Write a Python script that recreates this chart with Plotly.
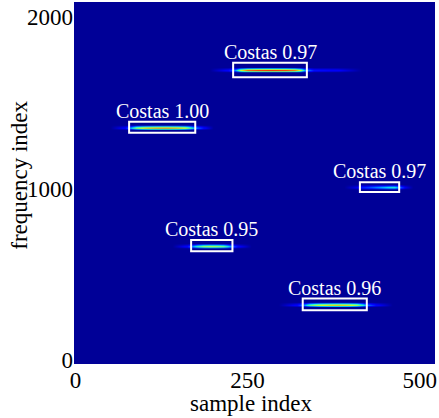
import plotly.graph_objects as go

# ---------------- data ----------------
labels = ["Costas 0.97", "Costas 1.00", "Costas 0.97", "Costas 0.95", "Costas 0.96"]
box_x0 = [229, 78, 413, 168, 330]
box_x1 = [336, 174, 470, 228, 423]
box_y0 = [1650, 1326, 980, 634, 289]
box_y1 = [1735, 1390, 1037, 700, 357]
streak_y = [1694, 1358, 1010, 665, 323]

background_level = 0.02

streak_x_A = [195, 222, 233, 240, 250, 265, 285, 305, 318, 326, 333, 345, 380, 415]
streak_z_A = [0.02, 0.13, 0.30, 0.62, 0.82, 0.88, 0.90, 0.88, 0.80, 0.60, 0.32, 0.14, 0.12, 0.02]

streak_x_B = [50, 72, 80, 88, 100, 115, 130, 145, 158, 166, 172, 185, 200]
streak_z_B = [0.02, 0.13, 0.30, 0.55, 0.68, 0.74, 0.76, 0.73, 0.65, 0.50, 0.30, 0.13, 0.02]

streak_x_C = [390, 408, 416, 425, 435, 445, 455, 462, 468, 478, 490]
streak_z_C = [0.02, 0.10, 0.16, 0.20, 0.26, 0.32, 0.38, 0.40, 0.30, 0.10, 0.02]

streak_x_D = [140, 162, 170, 177, 185, 195, 205, 214, 221, 226, 235, 255]
streak_z_D = [0.02, 0.13, 0.28, 0.45, 0.56, 0.60, 0.58, 0.52, 0.40, 0.26, 0.13, 0.02]

streak_x_E = [295, 322, 332, 340, 352, 368, 382, 396, 408, 416, 422, 435, 460]
streak_z_E = [0.02, 0.13, 0.28, 0.48, 0.62, 0.68, 0.70, 0.67, 0.58, 0.42, 0.26, 0.13, 0.02]

streaks_x = [streak_x_A, streak_x_B, streak_x_C, streak_x_D, streak_x_E]
streaks_z = [streak_z_A, streak_z_B, streak_z_C, streak_z_D, streak_z_E]

x_range = [-2, 522]
y_range = [-25, 2090]
x_ticks = [0, 250, 500]
y_ticks = [0, 1000, 2000]
x_title = "sample index"
y_title = "frequency index"

# ---------------- style ----------------
jet = [
    [0.0, "rgb(0,0,128)"], [0.11, "rgb(0,0,255)"], [0.125, "rgb(0,0,255)"],
    [0.34, "rgb(0,219,255)"], [0.375, "rgb(20,255,226)"], [0.5, "rgb(123,255,123)"],
    [0.64, "rgb(239,255,8)"], [0.66, "rgb(255,236,0)"], [0.89, "rgb(255,19,0)"],
    [0.91, "rgb(232,0,0)"], [1.0, "rgb(128,0,0)"],
]
serif = "Liberation Serif, Times New Roman, serif"
half_thickness = 14

fig = go.Figure()

# background
fig.add_trace(go.Heatmap(
    x=x_range, y=y_range,
    z=[[background_level, background_level], [background_level, background_level]],
    colorscale=jet, zmin=0, zmax=1, showscale=False, hoverinfo="skip",
))

for sx, sz, yc in zip(streaks_x, streaks_z, streak_y):
    edge = [background_level] * len(sz)
    fig.add_trace(go.Heatmap(
        x=sx, y=[yc - half_thickness, yc, yc + half_thickness],
        z=[edge, sz, edge],
        colorscale=jet, zmin=0, zmax=1, showscale=False, zsmooth="best",
        hoverinfo="skip",
    ))

for lab, x0, x1, y0, y1 in zip(labels, box_x0, box_x1, box_y0, box_y1):
    fig.add_shape(type="rect", x0=x0, x1=x1, y0=y0, y1=y1,
                  line=dict(color="white", width=2), xref="x", yref="y")
    fig.add_annotation(x=(x0 + x1) / 2, y=y1, text=lab, showarrow=False,
                       yanchor="bottom", xanchor="center", yshift=-2,
                       font=dict(family=serif, size=20, color="white"))

# axis titles
fig.add_annotation(xref="paper", yref="paper", x=0.49, y=0, yshift=-39,
                   xanchor="center", yanchor="middle", showarrow=False,
                   text=x_title, font=dict(family=serif, size=23, color="black"))
fig.add_annotation(xref="paper", yref="paper", x=0, y=0.52, xshift=-54,
                   xanchor="center", yanchor="middle", showarrow=False, textangle=-90,
                   text=y_title, font=dict(family=serif, size=23, color="black"))

fig.update_layout(
    width=439, height=418,
    margin=dict(l=74, r=4, t=2, b=54, autoexpand=False),
    paper_bgcolor="white", plot_bgcolor="rgb(0,0,140)",
    font=dict(family=serif, size=23, color="black"),
    showlegend=False,
)
fig.update_xaxes(range=x_range, tickvals=x_ticks, ticktext=[str(v) for v in x_ticks],
                 showgrid=False, zeroline=False, ticks="", automargin=False,
                 tickfont=dict(size=23))
fig.update_yaxes(range=y_range, tickvals=y_ticks, ticktext=[str(v) for v in y_ticks],
                 showgrid=False, zeroline=False, ticks="", automargin=False,
                 tickfont=dict(size=23))

fig.write_html("out.html", config={"displayModeBar": False},
               post_script="document.body.style.margin='0px';document.body.style.overflow='hidden';")
